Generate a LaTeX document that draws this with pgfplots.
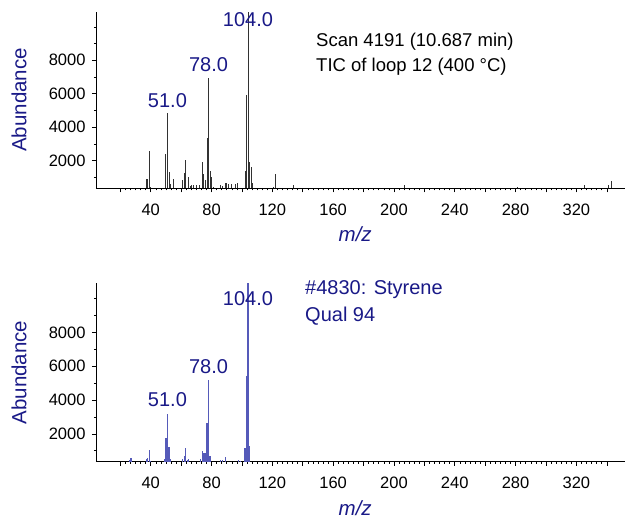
\documentclass[border=0pt]{standalone}
\usepackage{pgfplots}
\pgfplotsset{compat=1.18}
\usepackage{pgfplotstable}
\usepackage{fontspec}
\setmainfont{Liberation Sans}
\definecolor{navy}{RGB}{25,25,135}
\definecolor{specblue}{RGB}{85,90,185}
\definecolor{specblack}{RGB}{50,50,50}

\pgfplotstableread{
mz ab
37 880
38 900
39 2600
40 450
50 2400
51 4840
52 1300
53 620
55 890
61 850
62 1280
63 2040
65 1000
66 480
67 550
68 550
70 550
72 550
74 1920
75 1200
76 850
77 3340
78 6930
79 1385
80 1000
81 450
86 550
87 480
89 650
90 650
91 600
93 600
96 600
97 650
102 1385
103 5930
104 10900
105 1910
106 1640
107 690
121 420
122 1210
134 550
207 520
281 430
325 520
341 520
343 760
}\scantable

\pgfplotstableread{
mz ab
26 450
27 590
37 500
38 560
39 1040
40 420
49 480
50 1770
51 3170
52 1240
53 500
61 500
62 700
63 1140
64 450
65 500
73 500
74 1000
75 880
76 880
77 2620
78 5180
79 690
86 450
87 460
89 610
98 450
99 420
102 1180
103 5420
104 10900
105 1300
}\libtable

\tikzset{peaklab/.style={font=\fontsize{20}{24}\selectfont, text=navy, anchor=center}}

\pgfplotsset{
 msstyle/.style={
  scale only axis, width=529pt,
  xmin=4, xmax=352, ymin=350, ymax=10900,
  axis x line=bottom, axis y line=left,
  axis line style={-, line width=0.6pt},
  xtick={20,40,...,340},
  xticklabels={,40,,80,,120,,160,,200,,240,,280,,320,},
  minor x tick num=5,
  ytick={2000,4000,6000,8000},
  yticklabels={2000,4000,6000,8000},
  scaled y ticks=false,
  minor ytick={1000,3000,5000,7000,9000,10000},
  tick align=outside,
  major tick length=4pt, minor tick length=2pt,
  tick style={line width=0.5pt, black},
  /pgf/number format/assume math mode=true,
  ticklabel style={font=\fontsize{16.5}{19}\selectfont},
  xticklabel style={yshift=-8pt},
  yticklabel style={xshift=-3pt},
  xlabel={\textit{m/z}},
  ylabel={Abundance},
  label style={font=\fontsize{20.5}{24}\selectfont, text=navy},
  xlabel style={at={(axis description cs:0.49,0)}, anchor=center, yshift=-46pt},
  ylabel style={at={(axis description cs:0,0.5)}, anchor=center, yshift=77pt},
  clip=false,
 },
}

\begin{document}
\begin{tikzpicture}[x=1pt,y=1pt]
\useasboundingbox (0,0) rectangle (625,518);
\begin{axis}[msstyle, height=176.6pt, at={(96pt,329.7pt)}, anchor=south west]
\addplot[ycomb, specblack, line width=0.9pt] table[x=mz,y=ab] {\scantable};
\node[peaklab] at (axis cs:51,5575) {51.0};
\node[peaklab] at (axis cs:78,7729) {78.0};
\node[peaklab] at (axis cs:104,10422) {104.0};
\end{axis}
\begin{axis}[msstyle, height=178.4pt, at={(96pt,56.3pt)}, anchor=south west]
\addplot[ycomb, specblue, line width=1.2pt] table[x=mz,y=ab] {\libtable};
\node[peaklab] at (axis cs:51,4000) {51.0};
\node[peaklab] at (axis cs:78,5968) {78.0};
\node[peaklab] at (axis cs:104,10013) {104.0};
\end{axis}
\node[anchor=west, font=\fontsize{18.5}{22}\selectfont, inner sep=0pt] at (316pt,476.3pt) {Scan 4191 (10.687 min)};
\node[anchor=west, font=\fontsize{18.5}{22}\selectfont, inner sep=0pt] at (316pt,451.3pt) {TIC of loop 12 (400 °C)};
\node[anchor=west, font=\fontsize{20}{24}\selectfont, text=navy, inner sep=0pt] at (305pt,228pt) {\#4830: Styrene};
\node[anchor=west, font=\fontsize{20}{24}\selectfont, text=navy, inner sep=0pt] at (305pt,202pt) {Qual 94};
\end{tikzpicture}
\end{document}
